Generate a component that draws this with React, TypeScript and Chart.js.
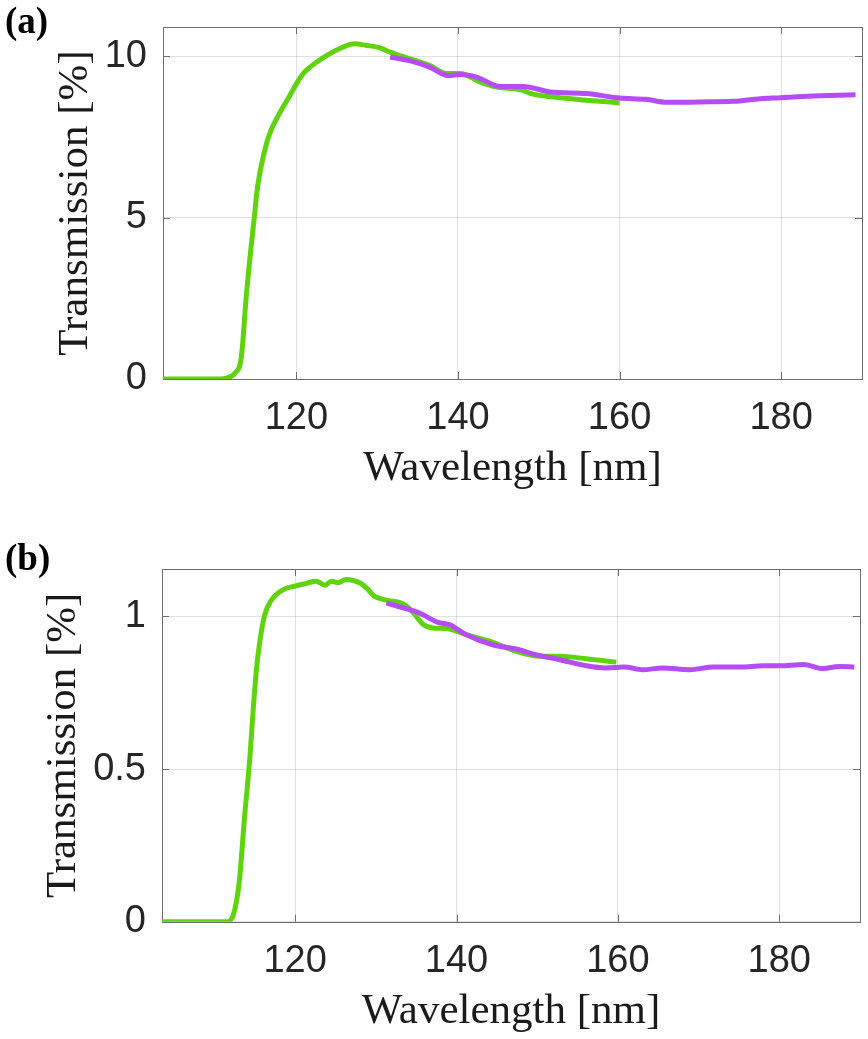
import { useEffect, useRef } from 'react'
import { Chart, registerables } from 'chart.js'

Chart.register(...registerables)

// x range and ticks shared by both panels
const X_MIN = 103.5
const X_MAX = 190
const X_TICKS = [120, 140, 160, 180]

// panel (a)
const A_Y_TICKS = [0, 5, 10]
const A_Y_MAX = 10.9
const A_GREEN_WL = [103.5, 110.5, 111.5, 112.4, 113.2, 113.8, 114.4, 114.8, 115.2, 115.9, 116.7, 117.9, 119.2, 120, 121, 122.5, 124.1, 125.8, 127.2, 128.7, 130.3, 131.6, 133.0, 134.5, 136.5, 138.6, 140.3, 142.7, 144.8, 147.7, 149.3, 151.8, 155.1, 157.6, 160]
const A_GREEN_T = [0, 0, 0.04, 0.18, 0.69, 2.55, 4.09, 5.02, 5.95, 6.88, 7.6, 8.22, 8.78, 9.14, 9.5, 9.81, 10.07, 10.28, 10.38, 10.33, 10.26, 10.12, 10.0, 9.88, 9.71, 9.46, 9.46, 9.2, 9.04, 8.96, 8.82, 8.73, 8.65, 8.6, 8.55]
const A_PURPLE_WL = [131.6, 134.1, 136.5, 138.8, 140.3, 142.3, 145.2, 148.1, 151.4, 155.9, 160, 163.3, 165.8, 170, 174.1, 177.4, 179.9, 182.7, 186.1, 189.2]
const A_PURPLE_T = [9.97, 9.85, 9.66, 9.4, 9.43, 9.35, 9.06, 9.06, 8.89, 8.84, 8.7, 8.66, 8.57, 8.58, 8.6, 8.68, 8.71, 8.75, 8.78, 8.8]

// panel (b)
const B_Y_TICKS = [0, 0.5, 1]
const B_Y_MAX = 1.155
const B_GREEN_WL = [103.5, 111.7, 112.5, 113.1, 113.7, 114.4, 114.8, 115.2, 115.6, 116.2, 117.0, 118.5, 120.1, 121.4, 122.6, 123.7, 124.5, 125.3, 126.3, 128.0, 128.8, 129.8, 131.3, 133.3, 134.6, 135.8, 137.1, 138.7, 141.2, 144.5, 147.4, 150.3, 152.8, 156.1, 159.8]
const B_GREEN_T = [0, 0, 0.038, 0.137, 0.333, 0.541, 0.694, 0.825, 0.913, 1.002, 1.051, 1.087, 1.1, 1.108, 1.115, 1.102, 1.115, 1.11, 1.121, 1.11, 1.094, 1.066, 1.053, 1.042, 1.013, 0.975, 0.962, 0.96, 0.94, 0.915, 0.885, 0.869, 0.869, 0.861, 0.85]
const B_PURPLE_WL = [131.3, 133.4, 135.4, 137.7, 139.1, 141.2, 144.5, 147.4, 149.9, 152.8, 156.1, 158.5, 160.8, 163.1, 165.5, 168.9, 171.8, 175.1, 178.0, 180, 183.0, 185.4, 187.4, 189.3]
const B_PURPLE_T = [1.044, 1.028, 1.011, 0.98, 0.973, 0.94, 0.907, 0.893, 0.874, 0.858, 0.838, 0.831, 0.834, 0.825, 0.831, 0.825, 0.834, 0.834, 0.838, 0.838, 0.842, 0.829, 0.836, 0.834]

const GREEN = '#5fd30e'
const PURPLE = '#b54cf5'
const AXIS_COLOR = '#6e6e6e'
const TEXT_COLOR = '#262626'
const GRID_COLOR = 'rgba(38,38,38,0.14)'
const TICK_SIZE = 38
const TITLE_SIZE = 43
const W = 868

const toPoints = (xs: number[], ys: number[]) => xs.map((x, i) => ({ x, y: ys[i] }))

type PanelProps = {
  label: string
  top: number
  height: number
  area: { left: number; top: number; right: number; bottom: number }
  yTitleBaseline: number
  xTitleBaseline: number
  labelBaseline: number
  yTicks: number[]
  yMax: number
  green: { x: number; y: number }[]
  purple: { x: number; y: number }[]
}

function Panel(p: PanelProps) {
  const canvasRef = useRef<HTMLCanvasElement>(null)

  useEffect(() => {
    if (!canvasRef.current) return
    const ctx = canvasRef.current.getContext('2d')
    if (!ctx) return

    const titleLH = TITLE_SIZE * 1.2
    const mid = 0.34 * TITLE_SIZE
    // y title middle line sits left of the rotated baseline
    const yTitlePad = p.yTitleBaseline - mid - titleLH / 2
    const xTitlePad = p.height - titleLH / 2 - (p.xTitleBaseline - mid)

    // box with inward ticks, MATLAB style
    const frame = {
      id: 'frame',
      beforeDatasetsDraw(chart: any) {
        const { ctx, chartArea: a, scales } = chart
        ctx.save()
        ctx.strokeStyle = AXIS_COLOR
        ctx.lineWidth = 1
        ctx.beginPath()
        X_TICKS.forEach((v) => {
          const px = Math.round(scales.x.getPixelForValue(v)) + 0.5
          ctx.moveTo(px, a.bottom)
          ctx.lineTo(px, a.bottom - 7)
          ctx.moveTo(px, a.top)
          ctx.lineTo(px, a.top + 7)
        })
        p.yTicks.forEach((v) => {
          const py = Math.round(scales.y.getPixelForValue(v)) + 0.5
          ctx.moveTo(a.left, py)
          ctx.lineTo(a.left + 7, py)
          ctx.moveTo(a.right, py)
          ctx.lineTo(a.right - 7, py)
        })
        ctx.stroke()
        ctx.strokeRect(Math.round(a.left) + 0.5, Math.round(a.top) + 0.5, Math.round(a.width), Math.round(a.height))
        ctx.restore()
      },
      afterDraw(chart: any) {
        const { ctx } = chart
        ctx.save()
        ctx.font = 'bold 37px "Liberation Serif"'
        ctx.fillStyle = '#000'
        ctx.textBaseline = 'alphabetic'
        ctx.fillText(p.label, 5, p.labelBaseline)
        ctx.restore()
      },
    }

    const chart = new Chart(ctx, {
      type: 'line',
      data: {
        datasets: [
          {
            label: 'purple',
            data: p.purple,
            borderColor: PURPLE,
            borderWidth: 5,
            pointRadius: 0,
            cubicInterpolationMode: 'monotone',
            order: 0,
          },
          {
            label: 'green',
            data: p.green,
            borderColor: GREEN,
            borderWidth: 5,
            pointRadius: 0,
            cubicInterpolationMode: 'monotone',
            order: 1,
          },
        ],
      },
      options: {
        responsive: false,
        animation: false,
        layout: { padding: { left: 0, top: p.area.top, right: W - p.area.right, bottom: 0 } },
        plugins: { legend: { display: false }, tooltip: { enabled: false } },
        scales: {
          x: {
            type: 'linear',
            min: X_MIN,
            max: X_MAX,
            afterBuildTicks: (s: any) => {
              s.ticks = X_TICKS.map((value) => ({ value }))
            },
            afterFit: (s: any) => {
              s.height = p.height - p.area.bottom
              s.paddingLeft = 0
              s.paddingRight = 0
            },
            grid: { color: GRID_COLOR, drawTicks: false },
            border: { display: false },
            ticks: {
              padding: 17,
              autoSkip: false,
              maxRotation: 0,
              color: TEXT_COLOR,
              font: { family: 'Liberation Sans', size: TICK_SIZE },
              callback: (v: any) => String(v),
            },
            title: {
              display: true,
              text: 'Wavelength [nm]',
              color: '#1a1a1a',
              padding: { top: 0, bottom: xTitlePad },
              font: { family: 'Liberation Serif', size: TITLE_SIZE },
            },
          },
          y: {
            type: 'linear',
            min: 0,
            max: p.yMax,
            afterBuildTicks: (s: any) => {
              s.ticks = p.yTicks.map((value) => ({ value }))
            },
            afterFit: (s: any) => {
              s.width = p.area.left
              s.paddingTop = 0
              s.paddingBottom = 0
            },
            grid: { color: GRID_COLOR, drawTicks: false },
            border: { display: false },
            ticks: {
              padding: 16,
              color: TEXT_COLOR,
              font: { family: 'Liberation Sans', size: TICK_SIZE },
              callback: (v: any) => String(v),
            },
            title: {
              display: true,
              text: 'Transmission [%]',
              color: '#1a1a1a',
              padding: { top: yTitlePad, bottom: 0 },
              font: { family: 'Liberation Serif', size: TITLE_SIZE },
            },
          },
        },
      },
      plugins: [frame],
    })

    return () => chart.destroy()
  }, [])

  return (
    <canvas
      ref={canvasRef}
      width={W}
      height={p.height}
      style={{ position: 'absolute', left: 0, top: p.top, width: W, height: p.height }}
    />
  )
}

export default function App() {
  return (
    <div style={{ position: 'absolute', left: 0, top: 0, width: W, height: 1039, background: '#fff' }}>
      <Panel
        label="(a)"
        top={0}
        height={519}
        area={{ left: 163, top: 27, right: 862, bottom: 379 }}
        yTitleBaseline={90}
        xTitleBaseline={483.3}
        labelBaseline={33}
        yTicks={A_Y_TICKS}
        yMax={A_Y_MAX}
        green={toPoints(A_GREEN_WL, A_GREEN_T)}
        purple={toPoints(A_PURPLE_WL, A_PURPLE_T)}
      />
      <Panel
        label="(b)"
        top={519}
        height={520}
        area={{ left: 162, top: 50, right: 860, bottom: 402.7 }}
        yTitleBaseline={78}
        xTitleBaseline={507.7}
        labelBaseline={51}
        yTicks={B_Y_TICKS}
        yMax={B_Y_MAX}
        green={toPoints(B_GREEN_WL, B_GREEN_T)}
        purple={toPoints(B_PURPLE_WL, B_PURPLE_T)}
      />
    </div>
  )
}
